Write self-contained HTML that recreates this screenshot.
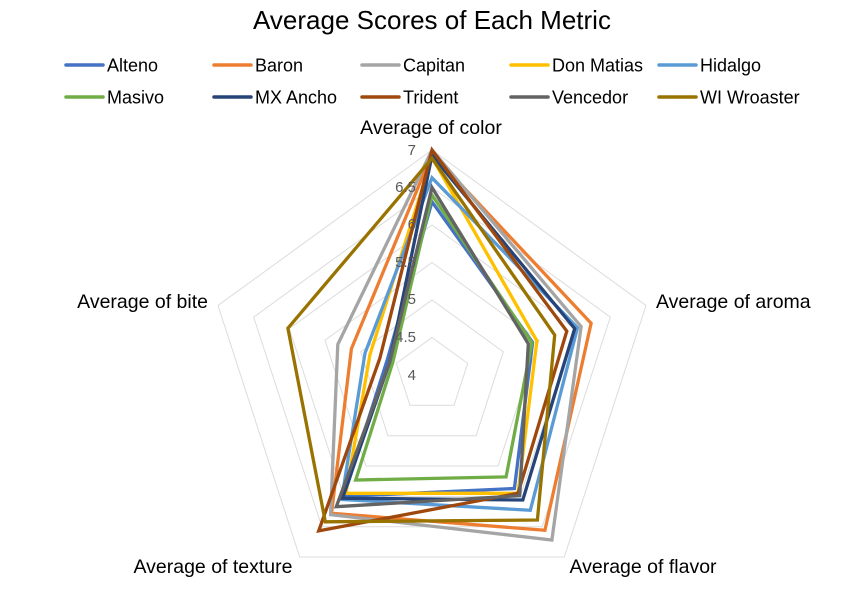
<!DOCTYPE html>
<html><head><meta charset="utf-8"><style>
body{margin:0;background:#fff;}
svg{display:block;font-family:"Liberation Sans",Arial,sans-serif;}
</style></head><body>
<svg id="s" width="862" height="606" viewBox="0 0 862 606">
<rect width="862" height="606" fill="#fff"/>
<text x="432" y="29" font-size="26" text-anchor="middle" fill="#000">Average Scores of Each Metric</text>
<g id="grid"></g>
<g id="series"></g>
<g font-size="15" fill="#595959" text-anchor="end">
<text x="416" y="155">7</text><text x="416" y="192">6.5</text><text x="416" y="229">6</text>
<text x="416" y="267">5.5</text><text x="416" y="304">5</text><text x="416" y="342">4.5</text><text x="416" y="380">4</text>
</g>
<g font-size="19.5" fill="#000">
<text x="431" y="134" text-anchor="middle">Average of color</text>
<text x="656" y="308">Average of aroma</text>
<text x="643" y="573" text-anchor="middle">Average of flavor</text>
<text x="213" y="573" text-anchor="middle">Average of texture</text>
<text x="208" y="308" text-anchor="end">Average of bite</text>
</g>
<g id="legend" font-size="18" fill="#000"></g>
</svg>
<script>
var cx=432,cy=375,R=225,ns="http://www.w3.org/2000/svg";
function pt(i,v){var a=(-90+72*i)*Math.PI/180,r=(v-4)*75;return (cx+r*Math.cos(a)).toFixed(1)+","+(cy+r*Math.sin(a)).toFixed(1);}
var g=document.getElementById("grid");
for(var k=1;k<=6;k++){var v=4+k*0.5,p=[];for(var i=0;i<5;i++)p.push(pt(i,v));
var e=document.createElementNS(ns,"polygon");e.setAttribute("points",p.join(" "));e.setAttribute("fill","none");e.setAttribute("stroke","#dcdcdc");e.setAttribute("stroke-width","1");g.appendChild(e);}
var S=[
["Alteno","#4472C4",[6.31,5.41,5.87,6.0,4.63]],
["Baron","#ED7D31",[6.95,6.23,6.56,6.28,5.13]],
["Capitan","#A5A5A5",[7.0,6.09,6.72,6.3,5.32]],
["Don Matias","#FFC000",[6.9,5.47,5.95,5.95,4.87]],
["Hidalgo","#5B9BD5",[6.63,6.04,6.23,6.05,4.94]],
["Masivo","#70AD47",[6.4,5.4,5.68,5.73,4.55]],
["MX Ancho","#264478",[6.93,6.0,6.06,6.03,4.59]],
["Trident","#9E480E",[7.0,5.89,5.95,6.57,4.73]],
["Vencedor","#636363",[6.5,5.35,5.99,6.17,4.59]],
["WI Wroaster","#997300",[6.89,5.72,6.39,6.42,6.02]]];
var sg=document.getElementById("series"),lg=document.getElementById("legend");
var cols=[66,214,362,511,659];
S.forEach(function(s,j){var p=s[2].map(function(v,i){return pt(i,v);});
var e=document.createElementNS(ns,"polygon");e.setAttribute("points",p.join(" "));e.setAttribute("fill","none");e.setAttribute("stroke",s[1]);e.setAttribute("stroke-width","3.3");e.setAttribute("stroke-linejoin","miter");sg.appendChild(e);
var x=cols[j%5],y=j<5?65:97;
var l=document.createElementNS(ns,"line");l.setAttribute("x1",x);l.setAttribute("x2",x+37);l.setAttribute("y1",y);l.setAttribute("y2",y);l.setAttribute("stroke",s[1]);l.setAttribute("stroke-width","3.5");l.setAttribute("stroke-linecap","round");lg.appendChild(l);
var t=document.createElementNS(ns,"text");t.setAttribute("x",x+41);t.setAttribute("y",y+6.5);t.textContent=s[0];lg.appendChild(t);});
</script>
</body></html>
